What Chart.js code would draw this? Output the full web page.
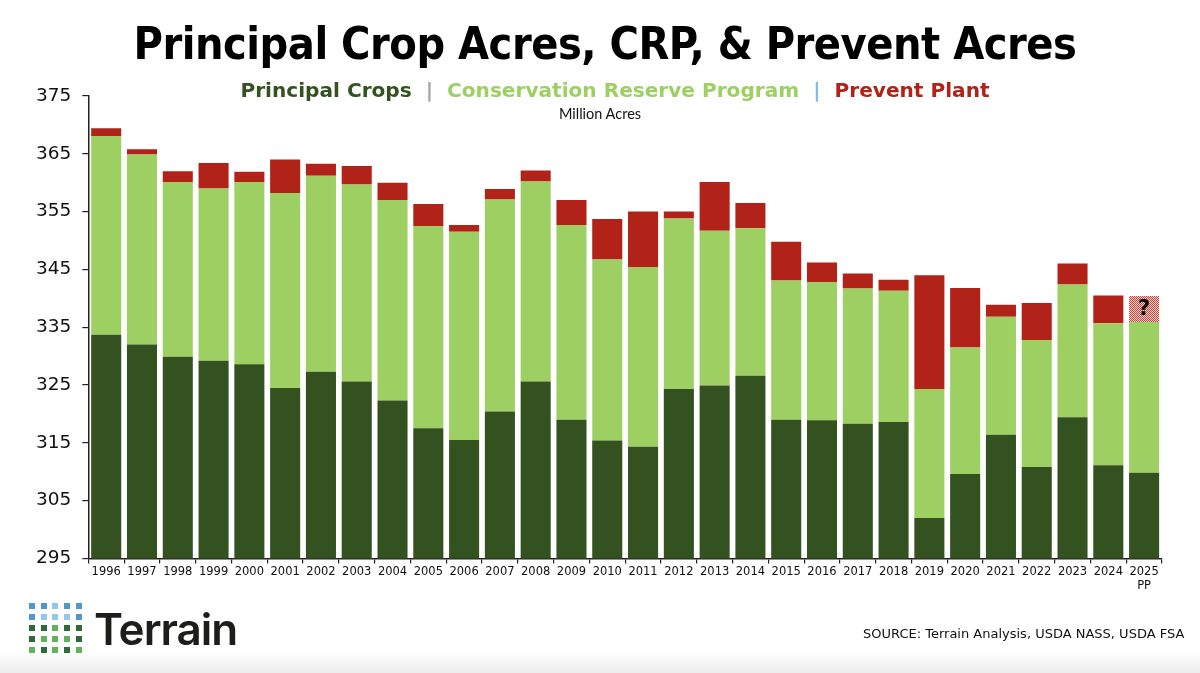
<!DOCTYPE html>
<html>
<head>
<meta charset="utf-8">
<script src="https://cdn.jsdelivr.net/npm/chart.js@4"></script>
<style>
  html, body { margin: 0; padding: 0; }
  body {
    width: 1200px; height: 673px; position: relative; overflow: hidden;
    background: linear-gradient(to bottom, #fff 0, #fff 652px, #ececec 673px);
    font-family: "DejaVu Sans", Verdana, sans-serif;
  }
  #wrap { position: absolute; left: 0; top: 0; width: 1200px; height: 673px; }
  .title {
    position: absolute; left: 0; width: 1210px; top: 18px; text-align: center;
    font-family: "DejaVu Sans Condensed", "DejaVu Sans", sans-serif; font-weight: bold;
    font-size: 44.6px; color: #000; letter-spacing: -0.5px;
  }
  .legend {
    position: absolute; left: 0; width: 1230px; top: 78px; text-align: center;
    font-weight: bold; font-size: 20.1px; white-space: pre;
  }
  .unit {
    position: absolute; left: 0; width: 1200px; top: 105px; text-align: center;
    font-family: Lato, "Noto Sans", sans-serif; font-size: 14.5px; color: #111;
  }
  .source { position: absolute; left: 863px; top: 626px; font-size: 13px; color: #111; }
  .logo { position: absolute; left: 29px; top: 603px; }
  .logo span { position: absolute; width: 6px; height: 6px; }
  .brand {
    position: absolute; left: 94px; top: 602px; font-family: Inter, "Noto Sans", sans-serif;
    font-size: 44px; font-weight: 600; color: #1d1d1b; letter-spacing: -1px;
  }
</style>
</head>
<body>
<div id="wrap"><canvas id="chart" width="1200" height="673"></canvas></div>
<div class="title">Principal Crop Acres, CRP, &amp; Prevent Acres</div>
<div class="legend"><span style="color:#33521f">Principal Crops</span>  <span style="color:#a6a6a6">|</span>  <span style="color:#9ecf62">Conservation Reserve Program</span>  <span style="color:#7cc0ea">|</span>  <span style="color:#b12318">Prevent Plant</span></div>
<div class="unit">Million Acres</div>
<div class="logo" id="logo"></div>
<div class="brand">Terrain</div>
<div class="source">SOURCE: Terrain Analysis, USDA NASS, USDA FSA</div>
<script>
const years = ['1996','1997','1998','1999','2000','2001','2002','2003','2004','2005',
  '2006','2007','2008','2009','2010','2011','2012','2013','2014','2015',
  '2016','2017','2018','2019','2020','2021','2022','2023','2024',['2025','PP']]

// million acres
const principalCrops = [333.7, 332.0, 329.9, 329.2, 328.6, 324.5, 327.3, 325.6, 322.3, 317.5,
  315.5, 320.4, 325.6, 319.0, 315.4, 314.3, 324.3, 324.9, 326.6, 319.0,
  318.9, 318.3, 318.6, 302.0, 309.6, 316.4, 310.8, 319.4, 311.1, 309.8]
const crp = [34.4, 32.9, 30.2, 29.8, 31.5, 33.7, 33.9, 34.1, 34.7, 35.0,
  36.0, 36.7, 34.6, 33.7, 31.3, 31.1, 29.5, 26.8, 25.5, 24.1,
  23.9, 23.4, 22.7, 22.3, 21.9, 20.4, 22.0, 23.0, 24.6, 26.1]
const preventPlant = [1.3, 0.9, 1.9, 4.4, 1.8, 5.8, 2.1, 3.2, 3.0, 3.8,
  1.2, 1.8, 1.9, 4.3, 7.0, 9.6, 1.2, 8.4, 4.4, 6.7,
  3.4, 2.6, 1.9, 19.7, 10.3, 2.1, 6.4, 3.6, 4.8, 4.5]

const yTicks = [295, 305, 315, 325, 335, 345, 355, 365, 375]

// logo squares
const logoColors = [
  ['#4f97cf','#4f97cf','#8fcaee','#4f97cf','#4f97cf'],
  ['#4f97cf','#8fcaee','#8fcaee','#8fcaee','#4f97cf'],
  ['#2f6a3a','#2f6a3a','#5fb35a','#2f6a3a','#2f6a3a'],
  ['#2f6a3a','#5fb35a','#5fb35a','#5fb35a','#2f6a3a'],
  ['#5fb35a','#2f6a3a','#5fb35a','#2f6a3a','#5fb35a']
]
const logo = document.getElementById('logo')
logoColors.forEach((row, r) => {
  row.forEach((c, i) => {
    const s = document.createElement('span')
    s.style.left = (i * 11.7) + 'px'
    s.style.top = (r * 11) + 'px'
    s.style.background = c
    logo.appendChild(s)
  })
})

// checkered fill for the 2025 estimate
const pc = document.createElement('canvas')
pc.width = 2; pc.height = 2
const pctx = pc.getContext('2d')
pctx.fillStyle = '#f3cfcb'; pctx.fillRect(0, 0, 2, 2)
pctx.fillStyle = '#c8483e'; pctx.fillRect(0, 0, 1, 1); pctx.fillRect(1, 1, 1, 1)
const hatch = pctx.createPattern(pc, 'repeat')

const ppColors = preventPlant.map((v, i) => i === preventPlant.length - 1 ? hatch : '#b12318')

const questionMark = {
  id: 'questionMark',
  afterDatasetsDraw(chart) {
    const bar = chart.getDatasetMeta(2).data[preventPlant.length - 1]
    const ctx = chart.ctx
    ctx.save()
    ctx.fillStyle = '#000'
    ctx.font = 'bold 21px "DejaVu Sans"'
    ctx.textAlign = 'center'
    ctx.textBaseline = 'middle'
    ctx.fillText('?', bar.x, (bar.y + bar.base) / 2 + 1)
    ctx.restore()
  }
}

new Chart(document.getElementById('chart').getContext('2d'), {
  type: 'bar',
  data: {
    labels: years,
    datasets: [
      { label: 'Principal Crops', data: principalCrops, backgroundColor: '#33521f' },
      { label: 'Conservation Reserve Program', data: crp, backgroundColor: '#9ecf62' },
      { label: 'Prevent Plant', data: preventPlant, backgroundColor: ppColors }
    ]
  },
  options: {
    responsive: false,
    animation: false,
    layout: { padding: { top: 96, left: 25, right: 38, bottom: 78 } },
    datasets: { bar: { barPercentage: 0.84, categoryPercentage: 1 } },
    plugins: {
      legend: { display: false },
      tooltip: { enabled: false }
    },
    scales: {
      x: {
        stacked: true,
        grid: { display: true, drawOnChartArea: false, drawTicks: true, tickLength: 5, color: '#222', lineWidth: 1.2 },
        border: { display: true, color: '#222', width: 1.5 },
        ticks: { color: '#111', font: { family: 'DejaVu Sans', size: 11.5 }, maxRotation: 0, autoSkip: false, padding: 2 }
      },
      y: {
        stacked: true,
        min: yTicks[0],
        max: yTicks[yTicks.length - 1],
        afterBuildTicks(axis) { axis.ticks = yTicks.map(v => ({ value: v })) },
        grid: { display: true, drawOnChartArea: false, drawTicks: true, tickLength: 6, color: '#222', lineWidth: 1.2 },
        border: { display: true, color: '#222', width: 1.5 },
        ticks: { color: '#111', font: { family: 'DejaVu Sans', size: 18.5 }, padding: 11 }
      }
    }
  },
  plugins: [questionMark]
})
</script>
</body>
</html>
